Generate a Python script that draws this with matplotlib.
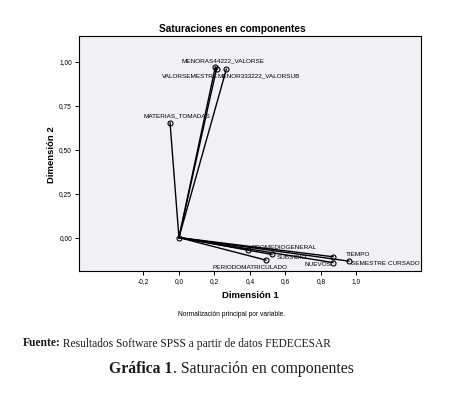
import matplotlib
matplotlib.use("Agg")
import matplotlib.pyplot as plt

# component loadings
VARS = ["MENORAS44222_VALORSE", "VALORSEMESTRE", "MENOR333222_VALORSUB",
        "MATERIAS_TOMADAS", "PROMEDIOGENERAL", "SUBSIDIO", "PERIODOMATRICULADO",
        "NUEVOS", "TIEMPO", "SEMESTRE CURSADO"]
DIM1 = [0.205, 0.212, 0.267, -0.050, 0.390, 0.524, 0.490, 0.867, 0.868, 0.958]
DIM2 = [0.970, 0.960, 0.957, 0.652, -0.070, -0.096, -0.128, -0.142, -0.109, -0.134]

XTICKS = [-0.2, 0.0, 0.2, 0.4, 0.6, 0.8, 1.0]
YTICKS = [0.0, 0.25, 0.5, 0.75, 1.0]

# label placement: offset in pixels from the point, horizontal alignment
LABEL_POS = {
    "MENORAS44222_VALORSE": (8, 6, "center"),
    "VALORSEMESTRE": (2, -8, "right"),
    "MENOR333222_VALORSUB": (-9, -7, "left"),
    "MATERIAS_TOMADAS": (7, 7, "center"),
    "PROMEDIOGENERAL": (3, 2, "left"),
    "SUBSIDIO": (5, -3, "left"),
    "PERIODOMATRICULADO": (-16, -7, "center"),
    "NUEVOS": (-1, -1.5, "right"),
    "TIEMPO": (13, 2.5, "left"),
    "SEMESTRE CURSADO": (2, -2, "left"),
}

SANS = ["Liberation Sans", "DejaVu Sans"]
NARROW = ["Liberation Sans Narrow", "Liberation Sans", "DejaVu Sans"]
SERIF = ["Liberation Serif", "DejaVu Serif"]

fig = plt.figure(figsize=(4.6, 3.93), dpi=100)
ax = fig.add_axes([0.1717, 0.3104, 0.915 - 0.1717, 0.908 - 0.3104])
ax.set_facecolor("#F1F1F4")

for name, x, y in zip(VARS, DIM1, DIM2):
    ax.plot([0, x], [0, y], color="black", lw=1.0, zorder=2)
    ax.plot(x, y, "o", mfc="none", mec="black", ms=3.6, mew=0.8, zorder=3)
    dx, dy, ha = LABEL_POS[name]
    ax.annotate(name, (x, y), xytext=(dx, dy), textcoords="offset pixels",
                ha=ha, va="center", fontsize=4.6, family=NARROW, zorder=4)
ax.plot(0, 0, "o", mfc="none", mec="black", ms=3.6, mew=0.8, zorder=3)

ax.set_xlim(-0.563, 1.363)
ax.set_ylim(-0.19, 1.145)
ax.set_xticks(XTICKS)
ax.set_xticklabels([("%.1f" % v).replace(".", ",") for v in XTICKS], family=SANS)
ax.set_yticks(YTICKS)
ax.set_yticklabels([("%.2f" % v).replace(".", ",") for v in YTICKS], family=SANS)
ax.tick_params(labelsize=4.8, length=3, width=0.7, direction="out", pad=2)
for s in ax.spines.values():
    s.set_linewidth(0.8)

fig.text(232 / 460, 1 - 29 / 393, "Saturaciones en componentes", ha="center",
         va="center", fontsize=7.3, fontweight="bold", family=SANS)
fig.text(51.5 / 460, 1 - 155 / 393, "Dimensión 2", ha="center", va="center",
         rotation=90, fontsize=6.8, fontweight="bold", family=SANS)
fig.text(250 / 460, 1 - 296 / 393, "Dimensión 1", ha="center", va="center",
         fontsize=6.8, fontweight="bold", family=SANS)
fig.text(232 / 460, 1 - 315 / 393, "Normalización principal por variable.",
         ha="center", va="center", fontsize=4.8, family=SANS)

# caption lines with a bold leading part
fig.canvas.draw()
rend = fig.canvas.get_renderer()


def caption(parts, y, size, x=None, center=None):
    objs = [fig.text(0, y, t, fontsize=size, fontweight=w, family=SERIF,
                     va="center", ha="left", color="#1a1a1a") for t, w in parts]
    widths = [o.get_window_extent(rend).width / fig.bbox.width for o in objs]
    start = x if center is None else center - sum(widths) / 2
    for o, w in zip(objs, widths):
        o.set_x(start)
        start += w


caption([("Fuente:", "bold"), (" Resultados Software SPSS a partir de datos FEDECESAR", "normal")],
        1 - 343.5 / 393, 8.3, x=22.5 / 460)
caption([("Gráfica 1", "bold"), (". Saturación en componentes", "normal")],
        1 - 369 / 393, 11.3, center=231.5 / 460)

fig.savefig("out.png", dpi=100)
